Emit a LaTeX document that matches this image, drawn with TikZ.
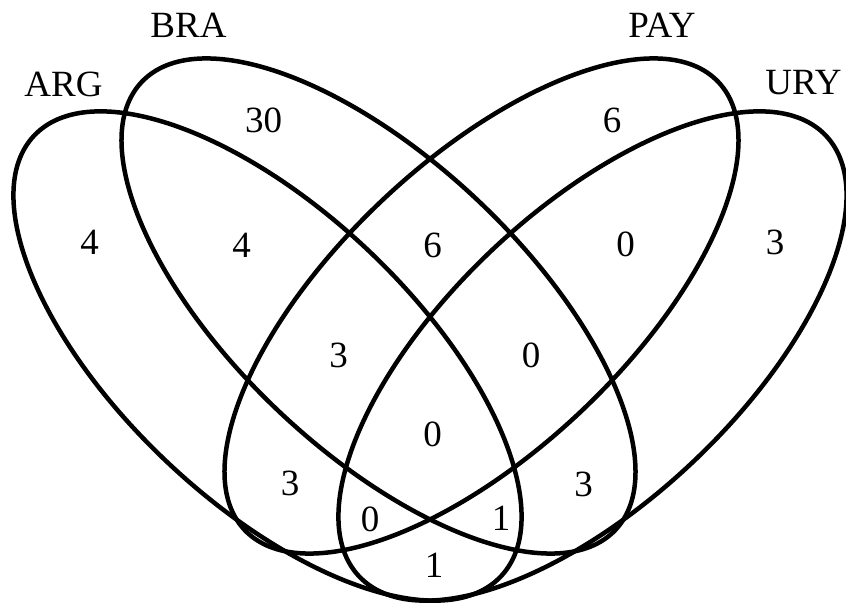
\documentclass[tikz,border=0pt]{standalone}
\usepackage{fontspec}
\setmainfont{Liberation Serif}
\begin{document}
\begin{tikzpicture}[x=1pt,y=1pt,
  setline/.style={line width=4.5pt, draw=black},
  lbl/.style={inner sep=0pt, anchor=center, font=\fontsize{37}{44}\selectfont}]
\useasboundingbox (0,0) rectangle (846,603);
% ellipses
\draw[setline, rotate around={-43.35:(267.5,247)}] (267.5,247) ellipse [x radius=321pt, y radius=146pt];
\draw[setline, rotate around={-43.4:(378.5,297)}] (378.5,297) ellipse [x radius=326pt, y radius=145pt];
\draw[setline, rotate around={43.4:(481.5,297)}] (481.5,297) ellipse [x radius=326pt, y radius=145pt];
\draw[setline, rotate around={43.35:(592.5,247)}] (592.5,247) ellipse [x radius=321pt, y radius=146pt];
% set labels
\node[lbl] (arg) at (63.5,518.5) {ARG};
\node[lbl] (bra) at (188.5,578) {BRA};
\node[lbl] (pay) at (662,577.5) {PAY};
\node[lbl] (ury) at (803.5,520) {URY};
% counts
\node[lbl] (a) at (89.5,360.5) {4};
\node[lbl] (b) at (263.5,482.5) {30};
\node[lbl] (ab) at (241.5,358) {4};
\node[lbl] (bc) at (432.5,358) {6};
\node[lbl] (cd) at (625.5,358.5) {0};
\node[lbl] (c) at (612,483) {6};
\node[lbl] (d) at (775,361) {3};
\node[lbl] (abc) at (338.5,247.5) {3};
\node[lbl] (bcd) at (531,247.5) {0};
\node[lbl] (abcd) at (432.5,168.5) {0};
\node[lbl] (ac) at (290,119.5) {3};
\node[lbl] (bd) at (583.5,118.5) {3};
\node[lbl] (acd) at (370,83.5) {0};
\node[lbl] (abd) at (501,84.5) {1};
\node[lbl] (ad) at (434,38) {1};
\end{tikzpicture}
\end{document}
